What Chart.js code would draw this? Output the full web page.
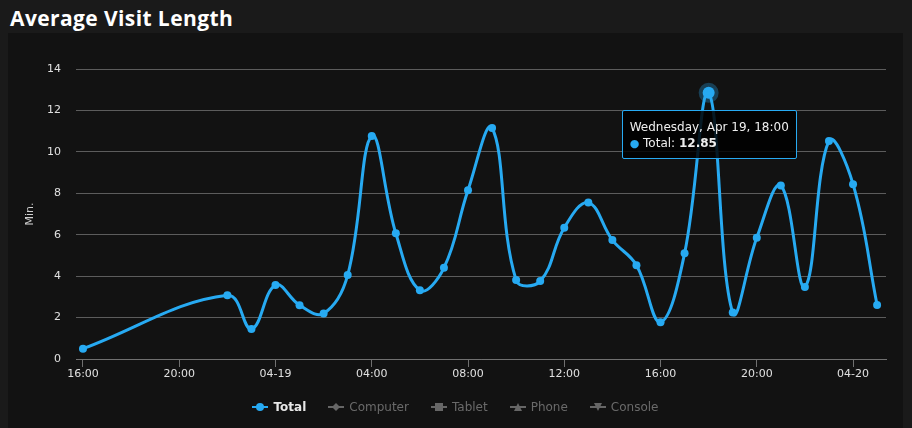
<!DOCTYPE html>
<html>
<head>
<meta charset="utf-8">
<title>Average Visit Length</title>
<script src="https://cdn.jsdelivr.net/npm/chart.js@4.4.1/dist/chart.umd.min.js"></script>
<style>
  html, body { margin: 0; padding: 0; width: 912px; height: 428px; overflow: hidden; background: #1a1a1a; }
  .avl-title { position: absolute; left: 10px; top: 4px; margin: 0; font: bold 21px 'Open Sans', sans-serif; letter-spacing: .4px; color: #fff; white-space: nowrap; }
  .avl-panel { position: absolute; left: 8px; top: 33px; width: 895px; height: 395px; background: #121212; }
  .avl-panel canvas { position: absolute; left: 0; top: 0; }
  .avl-legend { position: absolute; left: 0; right: 0; top: 367px; display: flex; justify-content: center; gap: 22px; font: 12px 'DejaVu Sans', sans-serif; }
  .avl-legend-item { display: flex; align-items: center; gap: 5px; color: #6a6a6a; }
  .avl-legend-item.is-on { color: #e8e8e8; font-weight: bold; }
  .avl-legend-item svg { display: block; }
  .avl-tooltip { position: absolute; display: none; box-sizing: border-box; width: 175px; height: 49px; padding: 8px 8px 0 7px;
    background: rgba(0, 0, 0, .85); border: 1px solid #27aaf2; border-radius: 2px; color: #eee;
    font: 12px 'DejaVu Sans', sans-serif; line-height: 16px; white-space: nowrap; pointer-events: none; }
  .avl-tooltip .dot { color: #27aaf2; font-size: 11px; }
</style>
</head>
<body>
<h1 class="avl-title">Average Visit Length</h1>
<div class="avl-panel">
  <canvas id="chartVisitLength" width="895" height="395"></canvas>
  <div class="avl-legend" id="visitLegend"></div>
  <div class="avl-tooltip" id="visitTooltip"></div>
</div>
<script>
(function () {
  'use strict';

  // hourly samples, Apr 18 16:00 -> Apr 20 01:00
  const times = [
    '2017-04-18T16:00', '2017-04-18T22:00', '2017-04-18T23:00',
    '2017-04-19T00:00', '2017-04-19T01:00', '2017-04-19T02:00', '2017-04-19T03:00',
    '2017-04-19T04:00', '2017-04-19T05:00', '2017-04-19T06:00', '2017-04-19T07:00',
    '2017-04-19T08:00', '2017-04-19T09:00', '2017-04-19T10:00', '2017-04-19T11:00',
    '2017-04-19T12:00', '2017-04-19T13:00', '2017-04-19T14:00', '2017-04-19T15:00',
    '2017-04-19T16:00', '2017-04-19T17:00', '2017-04-19T18:00', '2017-04-19T19:00',
    '2017-04-19T20:00', '2017-04-19T21:00', '2017-04-19T22:00', '2017-04-19T23:00',
    '2017-04-20T00:00', '2017-04-20T01:00',
  ];
  const totalMinutes = [
    0.5, 3.08, 1.45,
    3.57, 2.6, 2.2, 4.05,
    10.77, 6.07, 3.32, 4.4,
    8.15, 11.15, 3.81, 3.76,
    6.34, 7.55, 5.74, 4.53,
    1.78, 5.1, 12.85, 2.24,
    5.85, 8.37, 3.48, 10.53,
    8.44, 2.61,
  ];
  const seriesNames = ['Total', 'Computer', 'Tablet', 'Phone', 'Console'];
  const seriesMarkers = ['circle', 'diamond', 'square', 'triangle', 'triangle-down'];
  const tickHours = [16, 20, 24, 28, 32, 36, 40, 44, 48];
  const tickLabels = ['16:00', '20:00', '04-19', '04:00', '08:00', '12:00', '16:00', '20:00', '04-20'];
  const yTicks = [0, 2, 4, 6, 8, 10, 12, 14];
  const activeIndex = 21;

  const blue = '#27aaf2';
  const baseTime = Date.parse('2017-04-18T00:00Z');
  const toHours = (stamp) => (Date.parse(`${stamp}Z`) - baseTime) / 3600000;

  const dayNames = ['Sunday', 'Monday', 'Tuesday', 'Wednesday', 'Thursday', 'Friday', 'Saturday'];
  const monthNames = ['Jan', 'Feb', 'Mar', 'Apr', 'May', 'Jun', 'Jul', 'Aug', 'Sep', 'Oct', 'Nov', 'Dec'];
  const pad = (n) => String(n).padStart(2, '0');
  const formatStamp = (stamp) => {
    const d = new Date(`${stamp}Z`);
    return `${dayNames[d.getUTCDay()]}, ${monthNames[d.getUTCMonth()]} ${d.getUTCDate()}, ${pad(d.getUTCHours())}:${pad(d.getUTCMinutes())}`;
  };

  const tooltipNode = document.getElementById('visitTooltip');
  const renderTooltip = ({ tooltip }) => {
    if (!tooltip || tooltip.opacity === 0 || !tooltip.dataPoints || !tooltip.dataPoints.length) {
      tooltipNode.style.display = 'none';
      return;
    }
    const point = tooltip.dataPoints[0];
    tooltipNode.innerHTML = '';
    const title = document.createElement('div');
    title.textContent = formatStamp(times[point.dataIndex]);
    const body = document.createElement('div');
    const dot = document.createElement('span');
    dot.className = 'dot';
    dot.textContent = '\u25CF';
    const value = document.createElement('b');
    value.textContent = point.parsed.y.toFixed(2);
    body.append(dot, ` ${point.dataset.label}: `, value);
    tooltipNode.append(title, body);
    tooltipNode.style.left = `${tooltip.caretX - 87}px`;
    tooltipNode.style.top = `${tooltip.caretY + 17}px`;
    tooltipNode.style.display = 'block';
  };

  Chart.defaults.font.family = "'DejaVu Sans', sans-serif";
  Chart.defaults.font.size = 11;
  Chart.defaults.color = '#e0e0e0';

  const datasets = seriesNames.map((name, i) => ({
    label: name,
    data: i === 0 ? times.map((t, j) => ({ x: toHours(t), y: totalMinutes[j] })) : [],
    hidden: i !== 0,
    borderColor: blue,
    backgroundColor: blue,
    borderWidth: 3,
    tension: 0.4,
    pointStyle: seriesMarkers[i],
    pointRadius: 4,
    pointBorderWidth: 0,
    pointHoverRadius: 6,
    pointHoverBorderWidth: 8,
    pointHoverBorderColor: 'rgba(39, 170, 242, .3)',
    pointHoverBackgroundColor: blue,
  }));

  const chart = new Chart(document.getElementById('chartVisitLength'), {
    type: 'line',
    data: { datasets },
    options: {
      responsive: false,
      animation: false,
      events: [],
      layout: { padding: { top: 36, right: 17, left: 0, bottom: 0 } },
      interaction: { mode: 'nearest', intersect: false },
      plugins: {
        legend: { display: false },
        tooltip: { enabled: false, position: 'average', external: renderTooltip },
      },
      scales: {
        x: {
          type: 'linear',
          min: 15.71,
          max: 49.37,
          afterBuildTicks: (scale) => { scale.ticks = tickHours.map((value) => ({ value })); },
          afterFit: (scale) => { scale.height = 69; },
          grid: { display: true, drawOnChartArea: false, drawTicks: true, tickLength: 8, color: '#707070' },
          border: { display: true, color: '#707070' },
          ticks: { autoSkip: false, maxRotation: 0, padding: 1, color: '#e0e0e0', callback: (value, index) => tickLabels[index] },
        },
        y: {
          min: 0,
          max: 14,
          afterBuildTicks: (scale) => { scale.ticks = yTicks.map((value) => ({ value })); },
          afterFit: (scale) => { scale.width = 68; },
          grid: { color: '#5c5c5c', drawTicks: false },
          border: { display: false },
          ticks: { padding: 15, color: '#e0e0e0' },
          title: { display: true, text: 'Min.', color: '#cfcfcf', font: { size: 11 }, padding: { top: 16, bottom: 0 } },
        },
      },
    },
  });

  const active = [{ datasetIndex: 0, index: activeIndex }];
  chart.setActiveElements(active);
  chart.tooltip.setActiveElements(active, { x: 0, y: 0 });
  chart.update();

  // legend with line + marker symbols, drawn as small svgs
  const markerShape = (kind, color) => {
    switch (kind) {
      case 'circle': return `<circle cx="8" cy="5" r="4" fill="${color}"/>`;
      case 'diamond': return `<path d="M8 1 L12 5 L8 9 L4 5 Z" fill="${color}"/>`;
      case 'square': return `<rect x="4" y="1" width="8" height="8" fill="${color}"/>`;
      case 'triangle': return `<path d="M8 1 L12 9 L4 9 Z" fill="${color}"/>`;
      default: return `<path d="M4 1 L12 1 L8 9 Z" fill="${color}"/>`;
    }
  };
  const legend = document.getElementById('visitLegend');
  chart.data.datasets.forEach((ds, i) => {
    const on = !ds.hidden;
    const color = on ? blue : '#666';
    const item = document.createElement('div');
    item.className = `avl-legend-item${on ? ' is-on' : ''}`;
    item.innerHTML = `<svg width="16" height="10" viewBox="0 0 16 10"><line x1="0" y1="5" x2="16" y2="5" stroke="${color}" stroke-width="2"/>${markerShape(seriesMarkers[i], color)}</svg>`;
    const label = document.createElement('span');
    label.textContent = ds.label;
    item.appendChild(label);
    legend.appendChild(item);
  });
})();
</script>
</body>
</html>
